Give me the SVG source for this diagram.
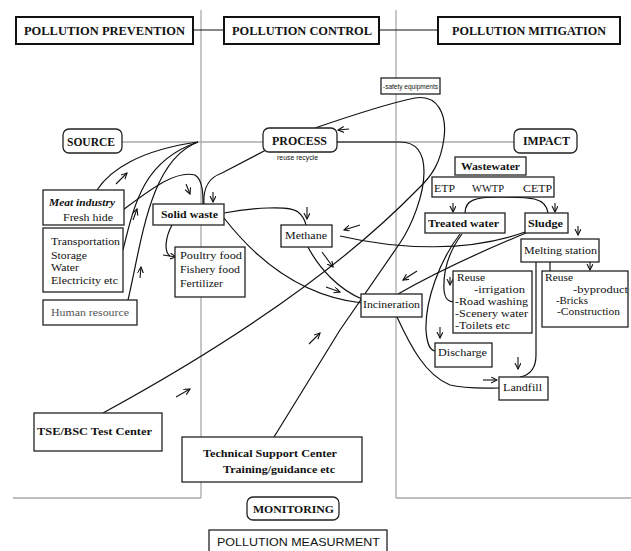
<svg xmlns="http://www.w3.org/2000/svg" width="631" height="551" viewBox="0 0 631 551">
<defs>
<marker id="ah" markerWidth="7" markerHeight="7" refX="6" refY="3" orient="auto" markerUnits="userSpaceOnUse">
<path d="M0,0 L6,3 L0,6" fill="none" stroke="#111" stroke-width="1.1"/>
</marker>
<style>
.bx{fill:#fff;stroke:#222;stroke-width:1.3}
.tb{fill:#fff;stroke:#111;stroke-width:2}
.dv{fill:none;stroke:#aaa;stroke-width:1.3}
.ln{fill:none;stroke:#111;stroke-width:1.2}
.ar{fill:none;stroke:#111;stroke-width:1.1;marker-end:url(#ah)}
.t{font-family:"Liberation Serif",serif;font-size:11px;fill:#111}
.b{font-weight:bold}
.s{font-family:"Liberation Sans",sans-serif;font-size:7px;fill:#111}
.h{font-family:"Liberation Serif",serif;font-size:12px;font-weight:bold;fill:#111}
</style>
</defs>
<rect width="631" height="551" fill="#fff"/>
<g id="dividers">
<path class="dv" d="M201,10 V498 M396,10 V498 M13,498 H201 M396,498 H631 M122,142 H263 M337,142 H514"/>
</g>
<g id="connectors">
<path class="ln" d="M193,30 H224 M379,30 H438" stroke-width="1.6"/>
<path class="ln" d="M97,190 C110,170 140,150 198,142"/>
<path class="ln" d="M123,250 C135,200 145,160 198,142"/>
<path class="ln" d="M128,300 C142,240 150,160 198,142"/>
<path class="ln" d="M123,210 C150,190 175,170 195,175 C203,180 203,195 203,204"/>
<path class="ln" d="M204,204 C203,188 208,178 222,173 L266,150"/>
<path class="ln" d="M172,225 C165,238 164,252 170,256"/>
<path class="ln" d="M224,213 C250,208 290,205 298,212 C303,216 305,220 306,225"/>
<path class="ln" d="M224,218 C245,245 290,295 362,303"/>
<path class="ln" d="M308,247 C320,270 340,290 362,299"/>
<path class="ln" d="M315,128 C350,116 390,103 415,98 C438,94 447,115 444,138 C441,162 432,176 418,189 Q310,300 103,413"/>
<path class="ln" d="M274,437 L340,330 L400,243 C412,225 424,195 424,172 C424,150 415,142 400,142 L337,142"/>
<path class="ln" d="M340,236 C400,250 470,252 525,232"/>
<path class="ln" d="M526,233 C480,252 440,270 398,294"/>
<path class="ln" d="M462,234 C450,250 443,270 444,290 C445,300 449,302 454,302"/>
<path class="ln" d="M460,234 C440,260 425,300 426,330 C427,345 430,350 435,351"/>
<path class="ln" d="M397,317 C410,345 425,375 450,385 C465,389 485,388 499,388"/>
<path class="ln" d="M536,262 L536,355 C536,368 530,375 520,377"/>
<path class="ln" d="M465,213 C465,200 475,197 500,197 C530,197 546,197 548,213"/>
<path class="ln" d="M550,262 V271"/>
<path class="ar" d="M116,184 L127,173"/>
<path class="ar" d="M186,184 L190,194"/>
<path class="ar" d="M213,192 L213,202"/>
<path class="ar" d="M133,220 L137,209"/>
<path class="ar" d="M140,278 L141,267"/>
<path class="ar" d="M163,255 L176,257"/>
<path class="ar" d="M349,129 L338,130"/>
<path class="ar" d="M307,207 L307,219"/>
<path class="ar" d="M322,252 L333,267"/>
<path class="ar" d="M326,287 L340,292"/>
<path class="ar" d="M360,225 L344,230"/>
<path class="ar" d="M417,271 L403,280"/>
<path class="ar" d="M309,344 L320,333"/>
<path class="ar" d="M176,397 L190,389"/>
<path class="ar" d="M453,203 L453,212"/>
<path class="ar" d="M555,203 L555,212"/>
<path class="ar" d="M578,226 L578,235"/>
<path class="ar" d="M590,261 L590,270"/>
<path class="ar" d="M450,277 L450,285"/>
<path class="ar" d="M440,327 L440,338"/>
<path class="ar" d="M518,357 L518,369"/>
<path class="ar" d="M483,380 L497,380"/>
</g>
<g id="n-prevention"><rect class="tb" x="16" y="17" width="177" height="27"/><text class="h" x="24" y="35" textLength="161" lengthAdjust="spacingAndGlyphs">POLLUTION PREVENTION</text></g>
<g id="n-control"><rect class="tb" x="224" y="17" width="155" height="27"/><text class="h" x="232" y="35" textLength="140" lengthAdjust="spacingAndGlyphs">POLLUTION CONTROL</text></g>
<g id="n-mitigation"><rect class="tb" x="438" y="17" width="182" height="27"/><text class="h" x="452" y="35" textLength="154" lengthAdjust="spacingAndGlyphs">POLLUTION MITIGATION</text></g>
<g id="n-safety"><rect class="bx" x="381" y="78" width="59" height="16" stroke-width="1"/><text class="s" x="383" y="89" textLength="55" lengthAdjust="spacingAndGlyphs">-safety equipments</text></g>
<g id="n-source"><rect class="bx" x="63" y="129" width="59" height="24" rx="6" stroke-width="1.6"/><text class="h" x="67" y="146" textLength="48" lengthAdjust="spacingAndGlyphs">SOURCE</text></g>
<g id="n-process"><rect class="bx" x="263" y="128" width="74" height="24" rx="6" stroke-width="1.6"/><text class="h" x="272" y="145" textLength="55" lengthAdjust="spacingAndGlyphs">PROCESS</text><text class="s" x="277" y="160" textLength="41" lengthAdjust="spacingAndGlyphs">reuse recycle</text></g>
<g id="n-impact"><rect class="bx" x="514" y="129" width="63" height="24" rx="6" stroke-width="1.6"/><text class="h" x="523" y="145" textLength="47" lengthAdjust="spacingAndGlyphs">IMPACT</text></g>
<g id="n-meat"><rect class="bx" x="43" y="190" width="81" height="35"/><text class="t b" x="49" y="206" font-style="italic" textLength="66" lengthAdjust="spacingAndGlyphs">Meat industry</text><text class="t" x="63" y="221" textLength="50" lengthAdjust="spacingAndGlyphs">Fresh hide</text></g>
<g id="n-transport"><rect class="bx" x="43" y="228" width="80" height="64"/><text class="t" x="51" y="245" textLength="69" lengthAdjust="spacingAndGlyphs">Transportation</text><text class="t" x="51" y="259" textLength="36" lengthAdjust="spacingAndGlyphs">Storage</text><text class="t" x="51" y="271" textLength="28" lengthAdjust="spacingAndGlyphs">Water</text><text class="t" x="51" y="284" textLength="67" lengthAdjust="spacingAndGlyphs">Electricity etc</text></g>
<g id="n-human"><rect class="bx" x="43" y="300" width="94" height="25"/><text class="t" x="51" y="316" style="fill:#555" textLength="78" lengthAdjust="spacingAndGlyphs">Human resource</text></g>
<g id="n-solid"><rect class="bx" x="153" y="204" width="71" height="21"/><text class="t b" x="161" y="218" textLength="57" lengthAdjust="spacingAndGlyphs">Solid waste</text></g>
<g id="n-poultry"><rect class="bx" x="175" y="247" width="70" height="50"/><text class="t" x="180" y="259" textLength="62" lengthAdjust="spacingAndGlyphs">Poultry food</text><text class="t" x="180" y="273" textLength="60" lengthAdjust="spacingAndGlyphs">Fishery food</text><text class="t" x="180" y="287" textLength="43" lengthAdjust="spacingAndGlyphs">Fertilizer</text></g>
<g id="n-methane"><rect class="bx" x="281" y="225" width="51" height="22"/><text class="t" x="285" y="239" textLength="42" lengthAdjust="spacingAndGlyphs">Methane</text></g>
<g id="n-incineration"><rect class="bx" x="361" y="294" width="61" height="23"/><text class="t" x="363" y="308" textLength="57" lengthAdjust="spacingAndGlyphs">Incineration</text></g>
<g id="n-wastewater"><rect class="bx" x="455" y="157" width="71" height="18"/><text class="t b" x="461" y="170" textLength="59" lengthAdjust="spacingAndGlyphs">Wastewater</text></g>
<g id="n-etp"><rect class="bx" x="432" y="177" width="122" height="20"/><text class="t" x="434" y="192" textLength="21" lengthAdjust="spacingAndGlyphs">ETP</text><text class="t" x="472" y="192" textLength="32" lengthAdjust="spacingAndGlyphs">WWTP</text><text class="t" x="523" y="192" textLength="29" lengthAdjust="spacingAndGlyphs">CETP</text></g>
<g id="n-treated"><rect class="bx" x="425" y="213" width="80" height="20"/><text class="t b" x="428" y="227" textLength="71" lengthAdjust="spacingAndGlyphs">Treated water</text></g>
<g id="n-sludge"><rect class="bx" x="525" y="213" width="43" height="20"/><text class="t b" x="528" y="227" textLength="35" lengthAdjust="spacingAndGlyphs">Sludge</text></g>
<g id="n-melting"><rect class="bx" x="521" y="239" width="78" height="23"/><text class="t" x="524" y="254" textLength="73" lengthAdjust="spacingAndGlyphs">Melting station</text></g>
<g id="n-reuse1"><rect class="bx" x="453" y="271" width="79" height="62"/><text class="t" x="457" y="281" textLength="28" lengthAdjust="spacingAndGlyphs">Reuse</text><text class="t" x="474" y="293" textLength="51" lengthAdjust="spacingAndGlyphs">-irrigation</text><text class="t" x="455" y="305" textLength="73" lengthAdjust="spacingAndGlyphs">-Road washing</text><text class="t" x="455" y="317" textLength="73" lengthAdjust="spacingAndGlyphs">-Scenery water</text><text class="t" x="455" y="329" textLength="55" lengthAdjust="spacingAndGlyphs">-Toilets etc</text></g>
<g id="n-reuse2"><rect class="bx" x="542" y="271" width="86" height="56"/><text class="t" x="545" y="281" textLength="28" lengthAdjust="spacingAndGlyphs">Reuse</text><text class="t" x="573" y="293" textLength="55" lengthAdjust="spacingAndGlyphs">-byproduct</text><text class="t" x="556" y="304" textLength="32" lengthAdjust="spacingAndGlyphs">-Bricks</text><text class="t" x="557" y="315" textLength="63" lengthAdjust="spacingAndGlyphs">-Construction</text></g>
<g id="n-discharge"><rect class="bx" x="435" y="343" width="57" height="24"/><text class="t" x="438" y="356" textLength="49" lengthAdjust="spacingAndGlyphs">Discharge</text></g>
<g id="n-landfill"><rect class="bx" x="499" y="377" width="49" height="23"/><text class="t" x="503" y="391" textLength="39" lengthAdjust="spacingAndGlyphs">Landfill</text></g>
<g id="n-tse"><rect class="bx" x="34" y="413" width="128" height="38"/><text class="t b" x="37" y="435" textLength="115" lengthAdjust="spacingAndGlyphs">TSE/BSC Test Center</text></g>
<g id="n-technical"><rect class="bx" x="182" y="437" width="180" height="45"/><text class="t b" x="203" y="457" textLength="134" lengthAdjust="spacingAndGlyphs">Technical Support Center</text><text class="t b" x="223" y="473" textLength="112" lengthAdjust="spacingAndGlyphs">Training/guidance etc</text></g>
<g id="n-monitoring"><rect class="bx" x="247" y="497" width="92" height="23" rx="6"/><text class="t b" x="253" y="513" textLength="81" lengthAdjust="spacingAndGlyphs">MONITORING</text></g>
<g id="n-measurement"><rect class="bx" x="209" y="530" width="178" height="26" stroke-width="1.6"/><text x="217" y="546" font-family="Liberation Sans, sans-serif" font-size="11" fill="#111" textLength="163" lengthAdjust="spacingAndGlyphs">POLLUTION MEASURMENT</text></g>
</svg>
